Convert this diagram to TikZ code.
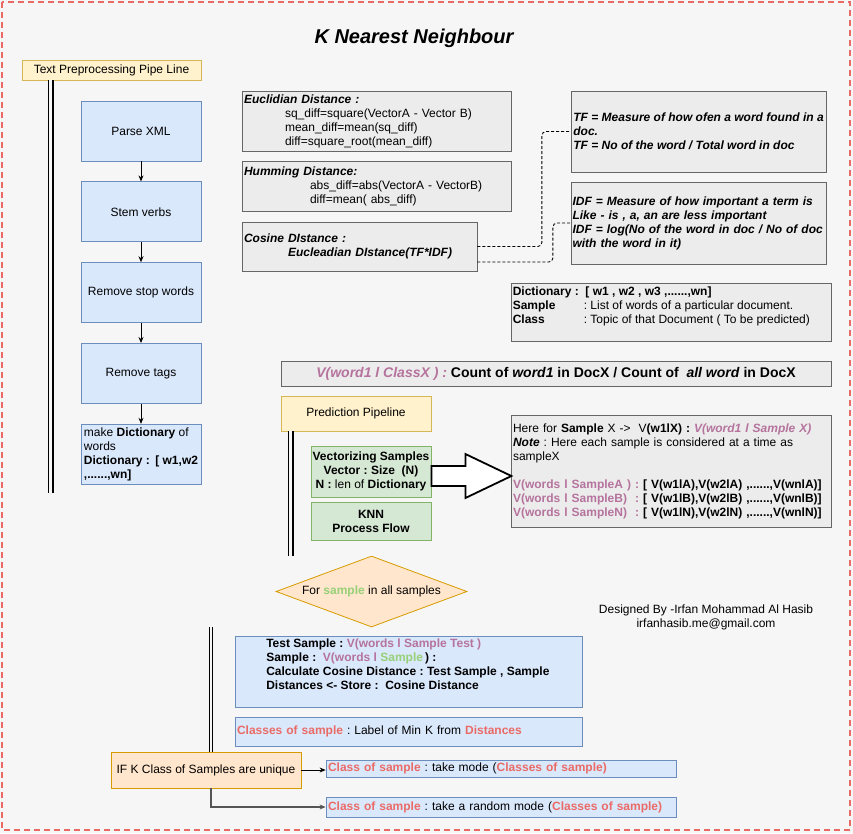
\documentclass[tikz,border=0pt]{standalone}
\usepackage{fontspec}
\setmainfont{Liberation Sans}
\usetikzlibrary{positioning,shapes.geometric,arrows.meta,calc}

\definecolor{bgcol}{HTML}{F6F6F6}
\definecolor{framered}{HTML}{EA6B66}
\definecolor{bluefill}{HTML}{DAE8FC}
\definecolor{bluedraw}{HTML}{6C8EBF}
\definecolor{yellowfill}{HTML}{FFF2CC}
\definecolor{yellowdraw}{HTML}{D6B656}
\definecolor{greenfill}{HTML}{D5E8D4}
\definecolor{greendraw}{HTML}{82B366}
\definecolor{orangefill}{HTML}{FFE6CC}
\definecolor{orangedraw}{HTML}{D79B00}
\definecolor{grayfill}{HTML}{ECECEC}
\definecolor{graydraw}{HTML}{666666}
\definecolor{purpletxt}{HTML}{B5739D}
\definecolor{redtxt}{HTML}{EA6B66}
\definecolor{greentxt}{HTML}{97D077}
\definecolor{darkline}{HTML}{555555}

\newcommand{\bitext}[1]{\textbf{\textit{#1}}}
\newcommand{\pur}[1]{\textcolor{purpletxt}{#1}}
\newcommand{\redt}[1]{\textcolor{redtxt}{\textbf{#1}}}
\newcommand{\grn}[1]{\textcolor{greentxt}{#1}}

\begin{document}
\frenchspacing
\begin{tikzpicture}[x=1pt,y=-1pt]
   \tikzstyle{every node}=[font=\fontsize{12}{14}\selectfont\frenchspacing, inner sep=1pt]
   \tikzstyle{bluebox}=[rectangle, draw=bluedraw, fill=bluefill, line width=0.8pt, minimum width=120pt, minimum height=60pt]
   \tikzstyle{yellowbox}=[rectangle, draw=yellowdraw, fill=yellowfill, line width=0.8pt]
   \tikzstyle{greenbox}=[rectangle, draw=greendraw, fill=greenfill, line width=0.8pt, minimum width=120pt, align=center]
   \tikzstyle{orangebox}=[rectangle, draw=orangedraw, fill=orangefill, line width=0.8pt]
   \tikzstyle{graybox}=[rectangle, draw=graydraw, fill=grayfill, line width=0.8pt, align=left]
   \tikzstyle{loopdiamond}=[diamond, draw=orangedraw, fill=orangefill, line width=0.8pt, shape aspect=2.7, inner sep=0pt, minimum width=191pt, minimum height=71pt]
   \tikzstyle{arr}=[line width=0.8pt, -{Stealth[length=6pt, width=5pt]}]
   \tikzstyle{dbl}=[double=bgcol, double distance=2.4pt, line width=1.8pt]
   \tikzstyle{dblmid}=[double=bgcol, double distance=3pt, line width=1.4pt]
   \tikzstyle{dblthin}=[double=bgcol, double distance=2.5pt, line width=1pt]
   \tikzstyle{dashlink}=[draw=black, dash pattern=on 3pt off 2pt, rounded corners=4pt, line width=0.9pt]
   \tikzstyle{blockarr}=[draw=black, fill=white, line width=1.8pt, line join=miter]

% canvas and frame
\fill[bgcol] (0,0) rectangle (853,833);
\useasboundingbox (0,0) rectangle (853,833);
\draw[framered, line width=1.5pt, dash pattern=on 6pt off 4pt] (2,2) rectangle (850,830);

\node[font=\fontsize{20}{24}\selectfont\bfseries\itshape] (title) at (414,38) {K Nearest Neighbour};

% text preprocessing
\node[yellowbox, minimum width=179pt, minimum height=20pt] (prep) at (111.5,70) {Text Preprocessing Pipe Line};
\draw[dbl] ($(prep.south west)+(29,0)$) -- ++(0,413);

\node[bluebox] (parse) at (141,131) {Parse XML};
\node[bluebox, below=20pt of parse] (stem) {Stem verbs};
\node[bluebox, below=20pt of stem] (stop) {Remove stop words};
\node[bluebox, below=20pt of stop] (tags) {Remove tags};
\node[bluebox, below=20pt of tags, align=left] (dict) {make \textbf{Dictionary} of\\words\\\textbf{Dictionary :\, [ w1,w2}\\\textbf{,......,wn]}};

\foreach \a/\b in {parse/stem, stem/stop, stop/tags, tags/dict}
   \draw[arr] (\a) -- (\b);

% distances
\node[graybox, minimum width=269pt, minimum height=60pt, text width=265pt] (euclid) at (376.5,121) {\bitext{Euclidian Distance :}\\
   \hspace*{41pt}sq\_diff=square(VectorA - Vector B)\\
   \hspace*{41pt}mean\_diff=mean(sq\_diff)\\
   \hspace*{41pt}diff=square\_root(mean\_diff)};
\node[graybox, minimum width=269pt, minimum height=50pt, text width=265pt] (humming) at (376.5,186.5) {\bitext{Humming Distance:}\\
   \hspace*{66pt}abs\_diff=abs(VectorA - VectorB)\\
   \hspace*{66pt}diff=mean( abs\_diff)};
\node[graybox, minimum width=235pt, minimum height=49pt, text width=231pt] (cosine) at (359.5,246.5) {\bitext{Cosine DIstance :}\\
   \hspace*{44pt}\bitext{Eucleadian DIstance(TF*IDF)}};

\node[graybox, minimum width=255pt, minimum height=81pt, font=\fontsize{12}{14}\selectfont\bfseries\itshape] (tf) at (698.5,131.5) {TF = Measure of how ofen a word found in a\\doc.\\TF = No of the word / Total word in doc};
\node[graybox, minimum width=255pt, minimum height=82pt, text width=252pt, font=\fontsize{12}{14}\selectfont\bfseries\itshape] (idf) at (698.5,223) {IDF = Measure of how important a term is\\Like - is , a, an are less important\\IDF = log(No of the word in doc / No of doc\\with the word in it)};

\draw[dashlink] (cosine.east) -- ++(64.5,0) |- (tf.west);
\draw[dashlink] ($(cosine.east)+(0,15.5)$) -- ++(75.5,0) |- (idf.west);

% definitions
\node[graybox, minimum width=320pt, minimum height=58pt] (defs) at (671,312) {};
\node[anchor=north west, align=left] (defstext) at ($(defs.north west)+(1,3)$) {\textbf{Dictionary :~ [ w1 , w2 , w3 ,......,wn]}\\
   \makebox[71pt][l]{\textbf{Sample}}: List of words of a particular document.\\
   \makebox[71pt][l]{\textbf{Class}}: Topic of that Document ( To be predicted)};

\node[graybox, minimum width=550pt, minimum height=25pt, font=\fontsize{14}{16}\selectfont\bfseries] (vbox) at (556,373.5) {\pur{\textit{V(word1 l ClassX ) :}} Count of \textit{word1} in DocX / Count of~ \textit{all word} in DocX};

% prediction pipeline
\node[yellowbox, minimum width=150pt, minimum height=35pt] (pred) at (356,413.5) {Prediction Pipeline};
\draw[dblmid] ($(pred.south west)+(10,0)$) -- ++(0,125);

\node[greenbox, minimum height=51pt] (vect) at (371,471.5) {\textbf{Vectorizing Samples}\\\textbf{Vector : Size~ (N)}\\\textbf{N :} len of \textbf{Dictionary}};
\node[greenbox, minimum height=38pt] (knn) at (371,521) {\textbf{KNN}\\\textbf{Process Flow}};

\node[graybox, minimum width=320pt, minimum height=112pt, text width=316pt] (sample) at (671,471) {Here for \textbf{Sample} X ->~ V\textbf{(w1lX) :} \pur{\bitext{V(word1 l Sample X)}}\\
   \bitext{Note} : Here each sample is considered at a time as\\
   sampleX\\[14pt]
   \pur{\textbf{\makebox[130pt][l]{V(words l SampleA ) :}}}\textbf{[ V(w1lA),V(w2lA) ,......,V(wnlA)]}\\
   \pur{\textbf{\makebox[130pt][l]{V(words l SampleB)~ :}}}\textbf{[ V(w1lB),V(w2lB) ,......,V(wnlB)]}\\
   \pur{\textbf{\makebox[130pt][l]{V(words l SampleN)~ :}}}\textbf{[ V(w1lN),V(w2lN) ,......,V(wnlN)]}};

\draw[blockarr] ($(vect.east)+(0,-5.5)$) -- ++(34,0) -- ++(0,-12) -- ++(46,22) -- ++(-46,22) -- ++(0,-12) -- ++(-34,0) -- cycle;

% knn loop
\node[loopdiamond] (loop) at (371.5,591.5) {For \grn{\textbf{sample}} in all samples};

\node[align=center] (sign) at (706,617) {Designed By -Irfan Mohammad Al Hasib\\irfanhasib.me@gmail.com};

\coordinate (lowtop) at (211,627);

\node[bluebox, minimum width=347pt, minimum height=71pt] (test) at (408.5,671.5) {};
\node[anchor=north west, align=left, font=\fontsize{12}{14}\selectfont\bfseries] (testtext) at ($(test.north west)+(30.5,2)$) {Test Sample : \pur{V(words l Sample Test )}\\
   Sample :~ \pur{V(words l }\grn{Sample}\,) :\\
   Calculate Cosine Distance : Test Sample , Sample\\
   Distances <- Store :~ Cosine Distance};

\node[bluebox, minimum width=347pt, minimum height=29pt, text width=343pt, align=left] (classes) at (408.5,731.5) {\redt{Classes of sample} : Label of Min K from \redt{Distances}};

\node[orangebox, minimum width=190pt, minimum height=36pt] (ifbox) at (206,770) {IF K Class of Samples are unique};
\draw[dblthin] (lowtop) -- (lowtop |- ifbox.north);

\node[bluebox, minimum width=350pt, minimum height=17pt, text width=346pt, align=left] (mode) at (501,768.5) {\redt{Class of sample} : take mode (\redt{Classes of sample)}};
\node[bluebox, minimum width=350pt, minimum height=20pt, text width=346pt, align=left] (random) at (501,807) {\redt{Class of sample} : take a random mode (\redt{Classes of sample)}};

\draw[arr] (ifbox.east) -- (ifbox.east -| mode.west);
\draw[arr, draw=darkline, line width=1.3pt] (ifbox.south -| lowtop) |- (random.west);

\end{tikzpicture}
\end{document}
